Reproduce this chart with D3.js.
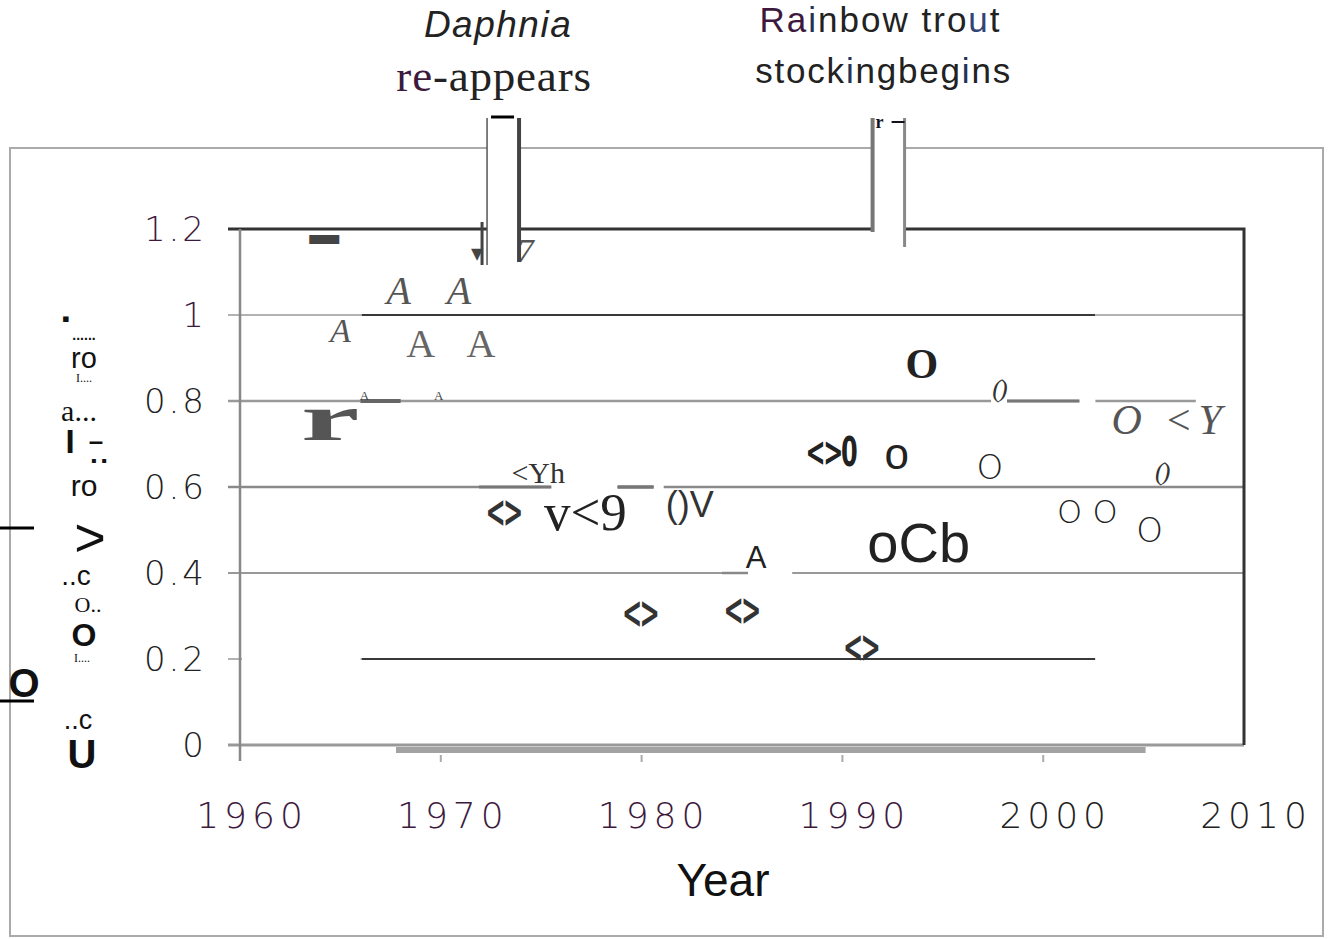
<!DOCTYPE html>
<html>
<head>
<meta charset="utf-8">
<title>Daphnia / rainbow trout</title>
<script src="https://d3js.org/d3.v7.min.js"></script>
<style>
  body { margin: 0; background: #fff; }
  svg { display: block; }
  .tick-y, .tick-x { font-family: "DejaVu Sans", sans-serif; font-weight: 200; }
</style>
</head>
<body>
<div id="chart"></div>
<script>
var svg_width = 1331, svg_height = 939;

// ---- data ----
var yTicks = [0, 0.2, 0.4, 0.6, 0.8, 1, 1.2];
var yTickLabels = ["0", "0.2", "0.4", "0.6", "0.8", "1", "1.2"];
var xTicks = [1960, 1970, 1980, 1990, 2000, 2010];
var xTickLabels = ["1960", "1970", "1980", "1990", "2000", "2010"];

// the plotted symbols came out of the scan as letters; keep them as they look
var pointYears  = [1964.2, 1967.9, 1970.9, 1965.0, 1969.0, 1972.0, 1966.2, 1969.9, 1964.5,
                   1974.85, 1973.1, 1977.2, 1982.4, 1979.9, 1984.95, 1985.7, 1990.9,
                   1989.4, 1992.7, 1993.95, 1997.8, 1997.35, 2006.3, 2005.9, 1993.8, 2002.2, 2005.3,
                   1971.8, 1974.2];
var pointValues = [1.19, 1.058, 1.058, 0.965, 0.933, 0.933, 0.812, 0.812, 0.76,
                   0.633, 0.544, 0.542, 0.56, 0.307, 0.314, 0.437, 0.228,
                   0.681, 0.679, 0.886, 0.83, 0.647, 0.756, 0.635, 0.47, 0.542, 0.5,
                   1.145, 1.15];
var pointGlyphs = ["\u25AC", "A", "A", "A", "A", "A", "A", "A", "r",
                   "<Yh", "<>", "v<9", "()V", "<>", "<>", "A", "<>",
                   "<>0", "o", "O", "()", "O", "O <Y", "()", "oCb", "O O", "O",
                   "\u25BE", "7"];
var pointStyle = [0, 1, 1, 2, 3, 3, 4, 4, 5,
                  6, 7, 8, 9, 7, 7, 10, 7,
                  11, 12, 13, 14, 15, 16, 14, 17, 18, 15,
                  19, 20];

var eventYears = [1973.1, 1992.3];
var eventText1 = ["Daphnia", "Rainbow trout"];
var eventText2 = ["re-appears", "stockingbegins"];

// ---- styles for the letters above ----
var styles = [
  {f: "Liberation Sans", s: 30, w: 700, i: "normal", c: "#444"},                 // 0 bar
  {f: "Liberation Serif", s: 40, w: 400, i: "italic", c: "#555"},                 // 1 italic A
  {f: "Liberation Serif", s: 34, w: 400, i: "italic", c: "#555"},                 // 2
  {f: "Liberation Serif", s: 40, w: 400, i: "normal", c: "#666"},                 // 3 slab A
  {f: "Liberation Serif", s: 13, w: 400, i: "normal", c: "#444"},                 // 4 tiny A
  {f: "Liberation Serif", s: 66, w: 700, i: "normal", c: "#555", sx: 2.0},        // 5 r
  {f: "Liberation Serif", s: 30, w: 400, i: "normal", c: "#333"},                 // 6 <Yh
  {f: "DejaVu Sans", s: 44, w: 700, i: "normal", c: "#333", sx: 0.55, ls: -5},    // 7 <>
  {f: "Liberation Serif", s: 53, w: 400, i: "normal", c: "#222"},                 // 8 v<9
  {f: "Liberation Sans", s: 36, w: 400, i: "normal", c: "#333"},                  // 9 ()V
  {f: "Liberation Sans", s: 31, w: 400, i: "normal", c: "#222"},                  // 10 A
  {f: "DejaVu Sans", s: 40, w: 700, i: "normal", c: "#222", sx: 0.6, ls: -4},     // 11 <>0
  {f: "Liberation Sans", s: 44, w: 400, i: "normal", c: "#222"},                  // 12 o
  {f: "Liberation Serif", s: 42, w: 700, i: "normal", c: "#222"},                 // 13 bold O
  {f: "Liberation Serif", s: 26, w: 400, i: "italic", c: "#333", ls: -2},         // 14 ()
  {f: "DejaVu Sans", s: 34, w: 200, i: "normal", c: "#222"},                      // 15 thin O
  {f: "Liberation Serif", s: 42, w: 400, i: "italic", c: "#555", ls: 6},          // 16 O <Y
  {f: "Liberation Sans", s: 56, w: 400, i: "normal", c: "#222"},                  // 17 oCb
  {f: "DejaVu Sans", s: 32, w: 200, i: "normal", c: "#222"},                      // 18 O O
  {f: "DejaVu Sans", s: 24, w: 700, i: "normal", c: "#444"},                      // 19 blob
  {f: "Liberation Serif", s: 34, w: 400, i: "italic", c: "#555"}                  // 20 7
];

var svg = d3.select("#chart").append("svg")
  .attr("width", svg_width).attr("height", svg_height);

var x = d3.scaleLinear().domain([1960, 2010]).range([240, 1244]);
var y = d3.scaleLinear().domain([0, 1.2]).range([745, 229]);

// outer frame, broken where the event brackets pass through
svg.append("path")
  .attr("fill", "none").attr("stroke", "#aaa").attr("stroke-width", 2)
  .attr("d", "M" + (x(eventYears[0]) - 16) + ",148 H10 V936 H1323 V148 H" + (x(eventYears[1]) + 16) +
             " M" + (x(eventYears[0]) + 16) + ",148 H" + (x(eventYears[1]) - 16));

// grid lines
var gridStyle = {0: ["#999", 3], 0.2: ["#999", 1.5], 0.4: ["#999", 2], 0.6: ["#8a8a8a", 2.5],
                 0.8: ["#999", 2.5], 1: ["#999", 1.5], 1.2: ["#333", 3]};
svg.append("g").selectAll("line").data(yTicks.filter(function(d) { return d < 1.2; }))
  .enter().append("line")
  .attr("x1", 228).attr("x2", x(2010))
  .attr("y1", function(d) { return y(d); }).attr("y2", function(d) { return y(d); })
  .attr("stroke", function(d) { return gridStyle[d][0]; })
  .attr("stroke-width", function(d) { return gridStyle[d][1]; });

// white gaps in the grid where letters sit on it
var gaps = [[1960.1, 1966.0, 0.2], [2002.6, 2010.1, 0.2], [1975.5, 1978.8, 0.6], [1980.6, 1981.1, 0.6],
            [1985.3, 1987.5, 0.4], [1997.4, 1998.2, 0.8], [2001.8, 2002.6, 0.8], [2007.6, 2010.1, 0.8]];
svg.append("g").selectAll("line").data(gaps).enter().append("line")
  .attr("x1", function(d) { return x(d[0]); }).attr("x2", function(d) { return x(d[1]); })
  .attr("y1", function(d) { return y(d[2]); }).attr("y2", function(d) { return y(d[2]); })
  .attr("stroke", "#fff").attr("stroke-width", 4);

// dark middle parts of the 1.0 and 0.2 lines
svg.append("g").selectAll("line").data([0.2, 1]).enter().append("line")
  .attr("x1", x(1966.07)).attr("x2", x(2002.58))
  .attr("y1", function(d) { return y(d); }).attr("y2", function(d) { return y(d); })
  .attr("stroke", "#111").attr("stroke-width", 1.5);

// thick grey bar under the zero line
svg.append("line").attr("x1", x(1967.77)).attr("x2", x(2005.1))
  .attr("y1", y(0) + 5).attr("y2", y(0) + 5)
  .attr("stroke", "#a3a3a3").attr("stroke-width", 6);

// darker bits on the 0.8 / 0.6 / 0.4 lines
var darkSegs = [[1966.0, 1968.0, 0.8, "#666", 4], [1971.9, 1975.5, 0.6, "#777", 3],
                [1978.8, 1980.6, 0.6, "#777", 3.5], [1984.0, 1985.3, 0.4, "#888", 2.5],
                [1998.2, 2001.8, 0.8, "#777", 3]];
svg.append("g").selectAll("line").data(darkSegs).enter().append("line")
  .attr("x1", function(d) { return x(d[0]); }).attr("x2", function(d) { return x(d[1]); })
  .attr("y1", function(d) { return y(d[2]); }).attr("y2", function(d) { return y(d[2]); })
  .attr("stroke", function(d) { return d[3]; }).attr("stroke-width", function(d) { return d[4]; });

// top border (1.2) broken by the brackets, right border, left axis
svg.append("path").attr("fill", "none").attr("stroke", "#333").attr("stroke-width", 3)
  .attr("d", "M228," + y(1.2) + " H" + (x(eventYears[0]) - 16) +
             " M" + (x(eventYears[0]) + 16) + "," + y(1.2) + " H" + (x(eventYears[1]) - 16) +
             " M" + (x(eventYears[1]) + 16) + "," + y(1.2) + " H" + x(2010) + " V" + y(0));
svg.append("line").attr("x1", 240).attr("x2", 240).attr("y1", y(1.2)).attr("y2", y(0) + 16)
  .attr("stroke", "#888").attr("stroke-width", 2.5);

// x ticks
svg.append("g").selectAll("line").data(xTicks.slice(1, 5)).enter().append("line")
  .attr("x1", function(d) { return x(d); }).attr("x2", function(d) { return x(d); })
  .attr("y1", y(0) + 10).attr("y2", y(0) + 17)
  .attr("stroke", "#aaa").attr("stroke-width", 2);

// tick labels
var yLabelColor = ["#222", "#222", "#222", "#222", "#222", "#3d1a3d", "#3d1a3d"];
svg.append("g").selectAll("text").data(yTicks).enter().append("text")
  .attr("class", "tick-y")
  .attr("x", 207).attr("y", function(d) { return y(d) + 12; })
  .attr("text-anchor", "end").attr("font-size", 34).attr("letter-spacing", 3)
  .attr("fill", function(d, i) { return yLabelColor[i]; })
  .text(function(d, i) { return yTickLabels[i]; });

var xLabelColor = ["#3d1a3d", "#3d1a3d", "#3d1a3d", "#3d1a3d", "#222", "#222"];
svg.append("g").selectAll("text").data(xTicks).enter().append("text")
  .attr("class", "tick-x")
  .attr("x", function(d) { return x(d) + 12; }).attr("y", 828)
  .attr("text-anchor", "middle").attr("font-size", 36).attr("letter-spacing", 5)
  .attr("fill", function(d, i) { return xLabelColor[i]; })
  .text(function(d, i) { return xTickLabels[i]; });

svg.append("text").attr("x", 723).attr("y", 896).attr("text-anchor", "middle")
  .attr("font-family", "Liberation Sans").attr("font-size", 46).attr("fill", "#111")
  .text("Year");

// the scanned symbols
svg.append("g").selectAll("text").data(pointYears).enter().append("text")
  .attr("transform", function(d, i) {
    var st = styles[pointStyle[i]];
    return "translate(" + x(d) + "," + y(pointValues[i]) + ") scale(" + (st.sx || 1) + ",1)";
  })
  .attr("text-anchor", "middle").attr("dominant-baseline", "central")
  .each(function(d, i) {
    var st = styles[pointStyle[i]];
    d3.select(this).attr("font-family", st.f).attr("font-size", st.s)
      .attr("font-weight", st.w).attr("font-style", st.i).attr("fill", st.c)
      .attr("letter-spacing", st.ls || 0);
  })
  .text(function(d, i) { return pointGlyphs[i]; });

// event brackets
eventYears.forEach(function(yr, k) {
  var cx = x(yr);
  var g = svg.append("g");
  g.append("line").attr("x1", cx - 16).attr("x2", cx - 16).attr("y1", 118).attr("y2", k ? 232 : 265)
    .attr("stroke", k ? "#777" : "#555").attr("stroke-width", k ? 4 : 1.5);
  g.append("line").attr("x1", cx + 16).attr("x2", cx + 16).attr("y1", 118).attr("y2", k ? 247 : 262)
    .attr("stroke", k ? "#888" : "#444").attr("stroke-width", k ? 3 : 4);
  if (k === 0) {
    g.append("line").attr("x1", cx - 12).attr("x2", cx + 11).attr("y1", 117).attr("y2", 117)
      .attr("stroke", "#000").attr("stroke-width", 3);
    g.append("line").attr("x1", cx - 21).attr("x2", cx - 21).attr("y1", 222).attr("y2", 265)
      .attr("stroke", "#444").attr("stroke-width", 3);
  } else {
    g.append("text").attr("x", cx - 13).attr("y", 128).attr("font-family", "Liberation Serif")
      .attr("font-weight", 700).attr("font-size", 18).attr("fill", "#112").text("r");
    g.append("line").attr("x1", cx + 3).attr("x2", cx + 16).attr("y1", 122).attr("y2", 122)
      .attr("stroke", "#112").attr("stroke-width", 2);
  }
});

// event captions
svg.append("text").attr("x", x(eventYears[0]) - 5).attr("y", 37).attr("text-anchor", "middle")
  .attr("font-family", "Liberation Sans").attr("font-style", "italic").attr("font-size", 37)
  .attr("letter-spacing", 1.5).attr("fill", "#222").text(eventText1[0]);
svg.append("text").attr("x", x(eventYears[0]) - 9).attr("y", 91).attr("text-anchor", "middle")
  .attr("font-family", "Liberation Serif").attr("font-size", 45).attr("letter-spacing", 0.8)
  .attr("fill", "#222")
  .html('<tspan fill="#3d1a3d">re</tspan>-appears');
svg.append("text").attr("x", x(eventYears[1]) - 8).attr("y", 32).attr("text-anchor", "middle")
  .attr("font-family", "Liberation Sans").attr("font-size", 35).attr("fill", "#222")
  .attr("letter-spacing", 2)
  .html('<tspan fill="#3d1a3d">Ra</tspan><tspan fill="#223355">i</tspan>nbow tro<tspan fill="#334477">u</tspan>t');
svg.append("text").attr("x", x(eventYears[1]) - 5).attr("y", 83).attr("text-anchor", "middle")
  .attr("font-family", "Liberation Sans").attr("font-size", 35).attr("fill", "#222")
  .attr("letter-spacing", 1.8)
  .html('stock<tspan fill="#223355">i</tspan>ngbeg<tspan fill="#223355">i</tspan>ns');

// y axis title, broken up in the scan
var yTitleBits = [
  ["\u25AA", 66, 326, "Liberation Sans", 22, 700, "#111"],
  ["......", 84, 340, "Liberation Sans", 14, 700, "#111"],
  ["ro", 84, 368, "Liberation Sans", 29, 400, "#111"],
  ["I....", 84, 382, "Liberation Serif", 12, 400, "#111"],
  ["a...", 79, 421, "Liberation Serif", 30, 400, "#111"],
  ["I", 70, 453, "Liberation Sans", 33, 900, "#111"],
  ["\u2013", 96, 450, "Liberation Sans", 26, 700, "#111"],
  ["\u25AA \u25AA", 99, 466, "Liberation Sans", 16, 700, "#111"],
  ["ro", 84, 496, "Liberation Sans", 30, 400, "#111"],
  [">", 90, 556, "Liberation Sans", 54, 400, "#111"],
  ["..c", 76, 585, "Liberation Sans", 28, 400, "#111"],
  ["O..", 88, 612, "Liberation Serif", 22, 400, "#111"],
  ["O", 84, 646, "Liberation Sans", 32, 900, "#111"],
  ["I....", 82, 662, "Liberation Serif", 12, 400, "#111"],
  ["O", 24, 697, "Liberation Sans", 40, 900, "#111"],
  ["..c", 78, 729, "Liberation Sans", 27, 400, "#111"],
  ["U", 82, 768, "Liberation Sans", 40, 900, "#111"]
];
svg.append("g").selectAll("text").data(yTitleBits).enter().append("text")
  .attr("x", function(d) { return d[1]; }).attr("y", function(d) { return d[2]; })
  .attr("text-anchor", "middle").attr("font-family", function(d) { return d[3]; })
  .attr("font-size", function(d) { return d[4]; }).attr("font-weight", function(d) { return d[5]; })
  .attr("fill", function(d) { return d[6]; })
  .text(function(d) { return d[0]; });
svg.append("g").selectAll("line").data([528, 701]).enter().append("line")
  .attr("x1", 0).attr("x2", 34).attr("y1", function(d) { return d; }).attr("y2", function(d) { return d; })
  .attr("stroke", "#000").attr("stroke-width", 3);
</script>
</body>
</html>
